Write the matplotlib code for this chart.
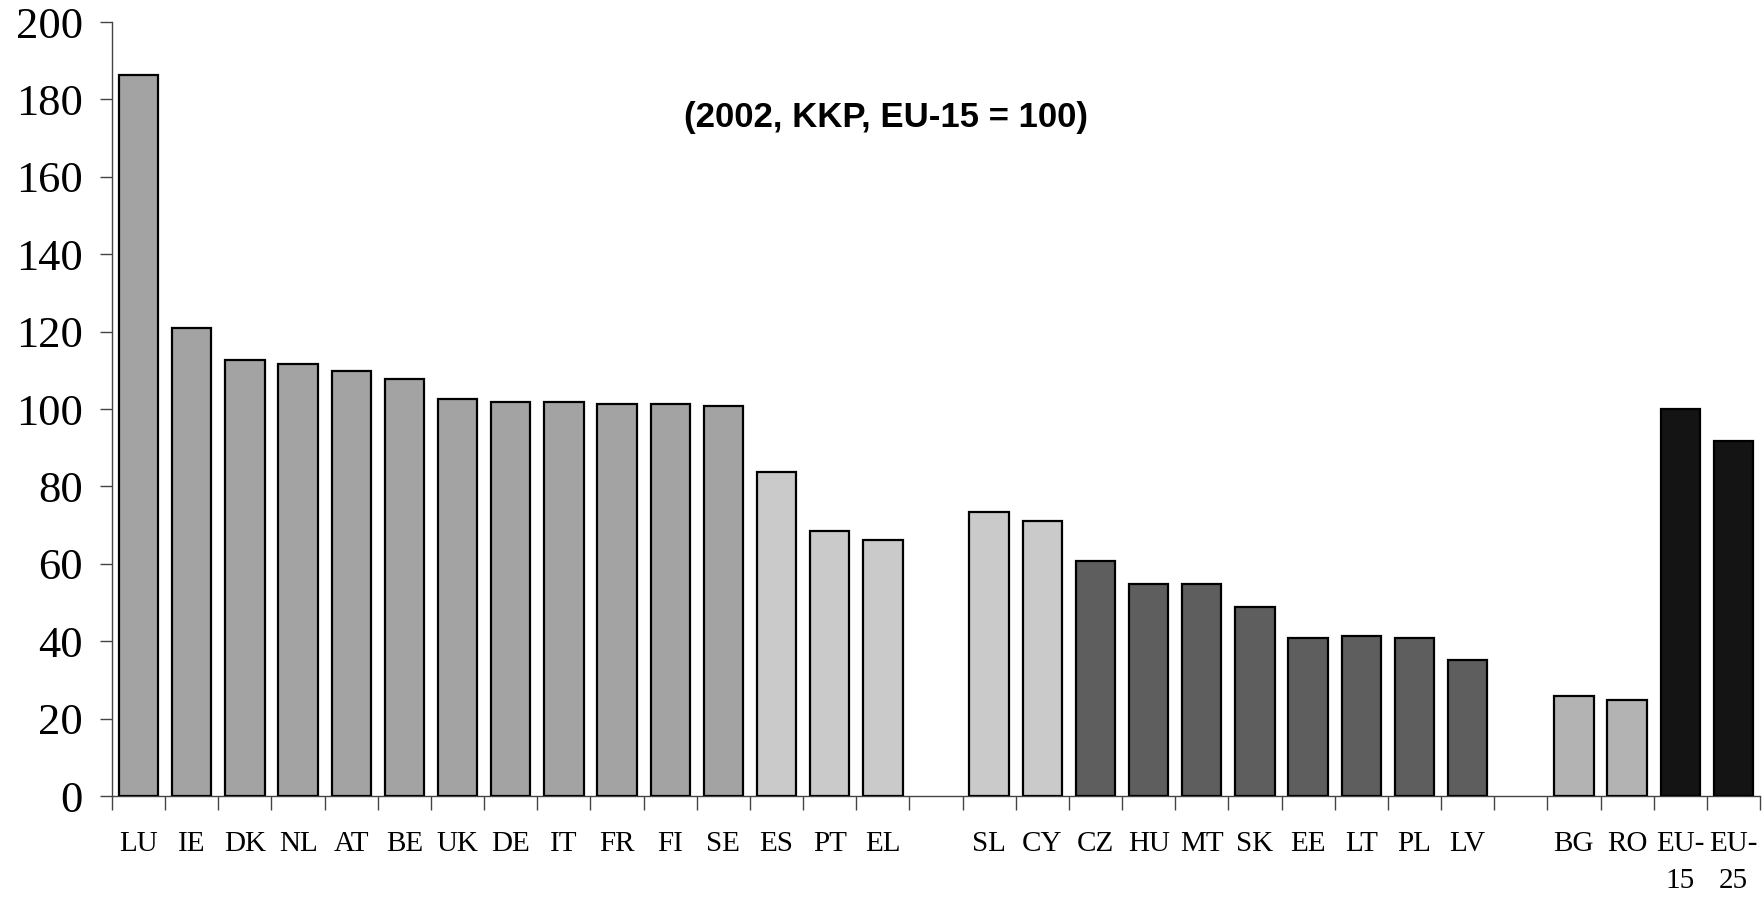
import numpy as np
import matplotlib
matplotlib.use('Agg')
import matplotlib.pyplot as plt
from matplotlib.ticker import FixedLocator

#%% Data
categories = ['LU', 'IE', 'DK', 'NL', 'AT', 'BE', 'UK', 'DE', 'IT', 'FR', 'FI', 'SE', 'ES', 'PT', 'EL',
              'SL', 'CY', 'CZ', 'HU', 'MT', 'SK', 'EE', 'LT', 'PL', 'LV',
              'BG', 'RO', 'EU-\n15', 'EU-\n25']
values = [186.4, 121, 112.7, 111.5, 109.8, 107.7, 102.5, 101.9, 101.9, 101.3, 101.3, 100.7, 83.6, 68.4, 66.1,
          73.4, 71.0, 60.8, 54.7, 54.7, 48.9, 40.8, 41.3, 40.8, 35.2,
          25.9, 24.7, 100, 91.7]
groups = ['old'] * 12 + ['coh'] * 3 + ['coh'] * 2 + ['new'] * 8 + ['cand'] * 2 + ['eu'] * 2
gap_after = [14, 24]  # empty slot after these category indices
title = '(2002, KKP, EU-15 = 100)'

colors = {'old': '#a3a3a3', 'coh': '#cacaca', 'new': '#5e5e5e', 'cand': '#b3b3b3', 'eu': '#141414'}

#%% Positions (one empty slot after each gap index)
pos = []
shift = 0
for i in range(len(categories)):
    pos.append(i + shift)
    if i in gap_after:
        shift += 1
n_slots = pos[-1] + 1

#%% Plot
fig = plt.figure(figsize=(17.64, 8.97), dpi=100)
ax = fig.add_axes([112 / 1764, 1 - 796 / 897, (1760 - 112) / 1764, (796 - 22) / 897])

ax.bar(pos, values, width=0.74, color=[colors[g] for g in groups],
       edgecolor='black', linewidth=1.6, zorder=3)

ax.set_xlim(-0.5, n_slots - 0.5)
ax.set_ylim(0, 200)
ax.set_yticks(np.arange(0, 201, 20))

ax.set_xticks(pos)
ax.set_xticklabels(categories, family='Liberation Serif', fontsize=21, linespacing=1.55)
ax.xaxis.set_minor_locator(FixedLocator(np.arange(-0.5, n_slots, 1)))
ax.tick_params(axis='x', which='major', length=0, pad=25)
ax.tick_params(axis='x', which='minor', length=10, width=1.0, color='#444444', direction='out')
ax.tick_params(axis='y', length=9, width=1.0, color='#444444', pad=12)
for lab in ax.get_yticklabels():
    lab.set_family('Liberation Serif')
    lab.set_fontsize(32)

for s in ['top', 'right']:
    ax.spines[s].set_visible(False)
ax.spines['left'].set_color('#444444')
ax.spines['bottom'].set_color('#444444')
ax.spines['left'].set_linewidth(1.0)
ax.spines['bottom'].set_linewidth(1.0)

fig.text(886 / 1764, 1 - 117 / 897, title, ha='center', va='center',
         family='Liberation Sans', fontweight='bold', fontsize=25)

fig.savefig('out.png', dpi=100)
